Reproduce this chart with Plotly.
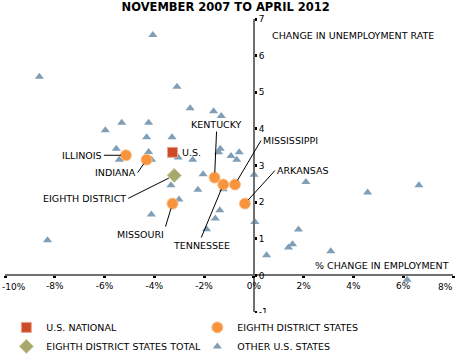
import plotly.graph_objects as go

# ---- data ----
other_x = [-4.06, -8.62, -3.09, -2.56, -1.62, -1.31, -5.31, -5.97, -4.23, -4.31, -3.29,
           -5.53, -5.41, -4.23, -4.11, -3.04, -2.46, -1.42, -1.35, -0.92, -0.59, -0.69,
           -2.04, -3.33, -2.25, -3.01, -4.12, -1.37, -1.55, -1.90, -8.29, -1.23, 0.01,
           -0.36, 0.04, 2.09, 4.57, 6.63, 1.79, 1.55, 1.39, 3.09, 0.51, 6.16]
other_y = [6.56, 5.42, 5.15, 4.56, 4.48, 4.35, 4.17, 3.96, 4.17, 3.77, 3.77,
           3.46, 3.16, 3.37, 3.16, 3.22, 3.16, 3.36, 3.46, 3.26, 3.36, 3.16,
           2.76, 2.46, 2.34, 2.07, 1.66, 1.78, 1.55, 1.26, 0.96, 2.35, 2.75,
           1.96, 1.46, 2.55, 2.26, 2.46, 1.25, 0.85, 0.76, 0.66, 0.55, -0.12]

district_states = ["ILLINOIS", "INDIANA", "MISSOURI", "KENTUCKY", "TENNESSEE", "MISSISSIPPI", "ARKANSAS"]
district_x = [-5.14, -4.31, -3.27, -1.58, -1.23, -0.76, -0.36]
district_y = [3.28, 3.16, 1.96, 2.67, 2.48, 2.48, 1.96]

us_x = [-3.27]
us_y = [3.36]
total_x = [-3.20]
total_y = [2.73]

x_ticks = [-10, -8, -6, -4, -2, 0, 2, 4, 6, 8]
x_ticklabels = ["-10%", "-8%", "-6%", "-4%", "-2%", "0%", "2%", "4%", "6%", "8%"]
y_ticks = [-1, 0, 1, 2, 3, 4, 5, 6, 7]
y_ticklabels = ["-1", "0", "1", "2", "3", "4", "5", "6", "7"]

FONT = "DejaVu Sans"

fig = go.Figure()
fig.add_trace(go.Scatter(x=other_x, y=other_y, mode="markers", name="OTHER U.S. STATES",
                         legendrank=4,
                         marker=dict(symbol="triangle-up", size=8, color="#809fb7",
                                     line=dict(width=0))))
fig.add_trace(go.Scatter(x=district_x, y=district_y, mode="markers", name="EIGHTH DISTRICT STATES",
                         legendrank=2,
                         marker=dict(symbol="circle", size=11, color="#f7943c",
                                     line=dict(width=1, color="#fbc08c"))))
fig.add_trace(go.Scatter(x=us_x, y=us_y, mode="markers", name="U.S. NATIONAL",
                         legendrank=1,
                         marker=dict(symbol="square", size=10, color="#cf4b28",
                                     line=dict(width=1, color="#eba38f"))))
fig.add_trace(go.Scatter(x=total_x, y=total_y, mode="markers", name="EIGHTH DISTRICT STATES TOTAL",
                         legendrank=3,
                         marker=dict(symbol="diamond", size=11, color="#a9a86c",
                                     line=dict(width=1, color="#d2d1ac"))))

# label placement (pixel offsets of the leader-line start relative to the point)
label_cfg = {
    "ILLINOIS": dict(ax=-22, ay=0, xanchor="right", yanchor="middle"),
    "INDIANA": dict(ax=-9, ay=13, xanchor="right", yanchor="middle"),
    "MISSOURI": dict(ax=-7, ay=23, xanchor="right", yanchor="top"),
    "KENTUCKY": dict(ax=2, ay=-46, xanchor="center", yanchor="bottom"),
    "TENNESSEE": dict(ax=-22, ay=53, xanchor="center", yanchor="top"),
    "MISSISSIPPI": dict(ax=26, ay=-44, xanchor="left", yanchor="middle"),
    "ARKANSAS": dict(ax=30, ay=-33, xanchor="left", yanchor="middle"),
}
for name, xv, yv in zip(district_states, district_x, district_y):
    c = label_cfg[name]
    fig.add_annotation(x=xv, y=yv, text=name, showarrow=True, arrowhead=0, arrowwidth=1,
                       arrowcolor="black", standoff=5, ax=c["ax"], ay=c["ay"],
                       xanchor=c["xanchor"], yanchor=c["yanchor"],
                       font=dict(family=FONT, size=9.5, color="black"))

fig.add_annotation(x=total_x[0], y=total_y[0], text="EIGHTH DISTRICT", showarrow=True, arrowhead=0,
                   arrowwidth=1, arrowcolor="black", standoff=6, ax=-46, ay=23,
                   xanchor="right", yanchor="middle",
                   font=dict(family=FONT, size=9.5, color="black"))
fig.add_annotation(x=us_x[0], y=us_y[0], text="U.S.", showarrow=False, xanchor="left",
                   xshift=7, font=dict(family=FONT, size=9.5, color="black"))

fig.add_annotation(x=0.63, y=6.54, text="CHANGE IN UNEMPLOYMENT RATE", showarrow=False,
                   xanchor="left", yanchor="middle", font=dict(family=FONT, size=9.5, color="black"))
fig.add_annotation(x=7.92, y=0.27, text="% CHANGE IN EMPLOYMENT", showarrow=False,
                   xanchor="right", yanchor="middle", font=dict(family=FONT, size=9.5, color="black"))

# the two end tick labels are drawn edge-aligned so they stay inside the picture
shown_ticktext = ["" if i in (0, len(x_ticks) - 1) else t for i, t in enumerate(x_ticklabels)]
fig.add_annotation(x=x_ticks[0], y=0, text=x_ticklabels[0], showarrow=False, xanchor="left",
                   yanchor="middle", xshift=-5, yshift=-11.5,
                   font=dict(family=FONT, size=9, color="black"))
fig.add_annotation(x=x_ticks[-1], y=0, text=x_ticklabels[-1], showarrow=False, xanchor="right",
                   yanchor="middle", xshift=2, yshift=-11.5,
                   font=dict(family=FONT, size=9, color="black"))

fig.update_layout(
    width=455, height=356,
    margin=dict(l=5, r=2, t=19, b=44, autoexpand=False),
    paper_bgcolor="white", plot_bgcolor="white",
    title=dict(text="<b>NOVEMBER 2007 TO APRIL 2012</b>", x=0.496, xref="container",
               y=0.981, yref="container", xanchor="center", yanchor="middle",
               font=dict(family=FONT, size=11.5, color="black")),
    xaxis=dict(range=[-10, 8], tickvals=x_ticks, ticktext=shown_ticktext,
               anchor="free", position=0.125, showline=True, linecolor="#707070", linewidth=2,
               ticks="outside", ticklen=2, tickwidth=3, tickcolor="black",
               showgrid=False, zeroline=False, automargin=False, ticklabeloverflow="allow",
               tickfont=dict(family=FONT, size=9, color="black")),
    yaxis=dict(range=[-1, 7], tickvals=y_ticks, ticktext=y_ticklabels, side="right",
               anchor="free", position=10 / 18, showline=True, linecolor="#707070", linewidth=2,
               ticks="outside", ticklen=2, tickwidth=3, tickcolor="black",
               showgrid=False, zeroline=False, automargin=False, ticklabeloverflow="allow",
               tickfont=dict(family=FONT, size=9, color="black")),
    showlegend=True,
    legend=dict(orientation="h", x=0.003, xanchor="left", y=-0.003, yanchor="top",
                entrywidth=146, entrywidthmode="pixels", tracegroupgap=0,
                font=dict(family=FONT, size=9.5, color="black"), itemwidth=30),
)

fig.write_html("out.html", config={"displayModeBar": False},
               post_script="document.body.style.margin='0px';")
